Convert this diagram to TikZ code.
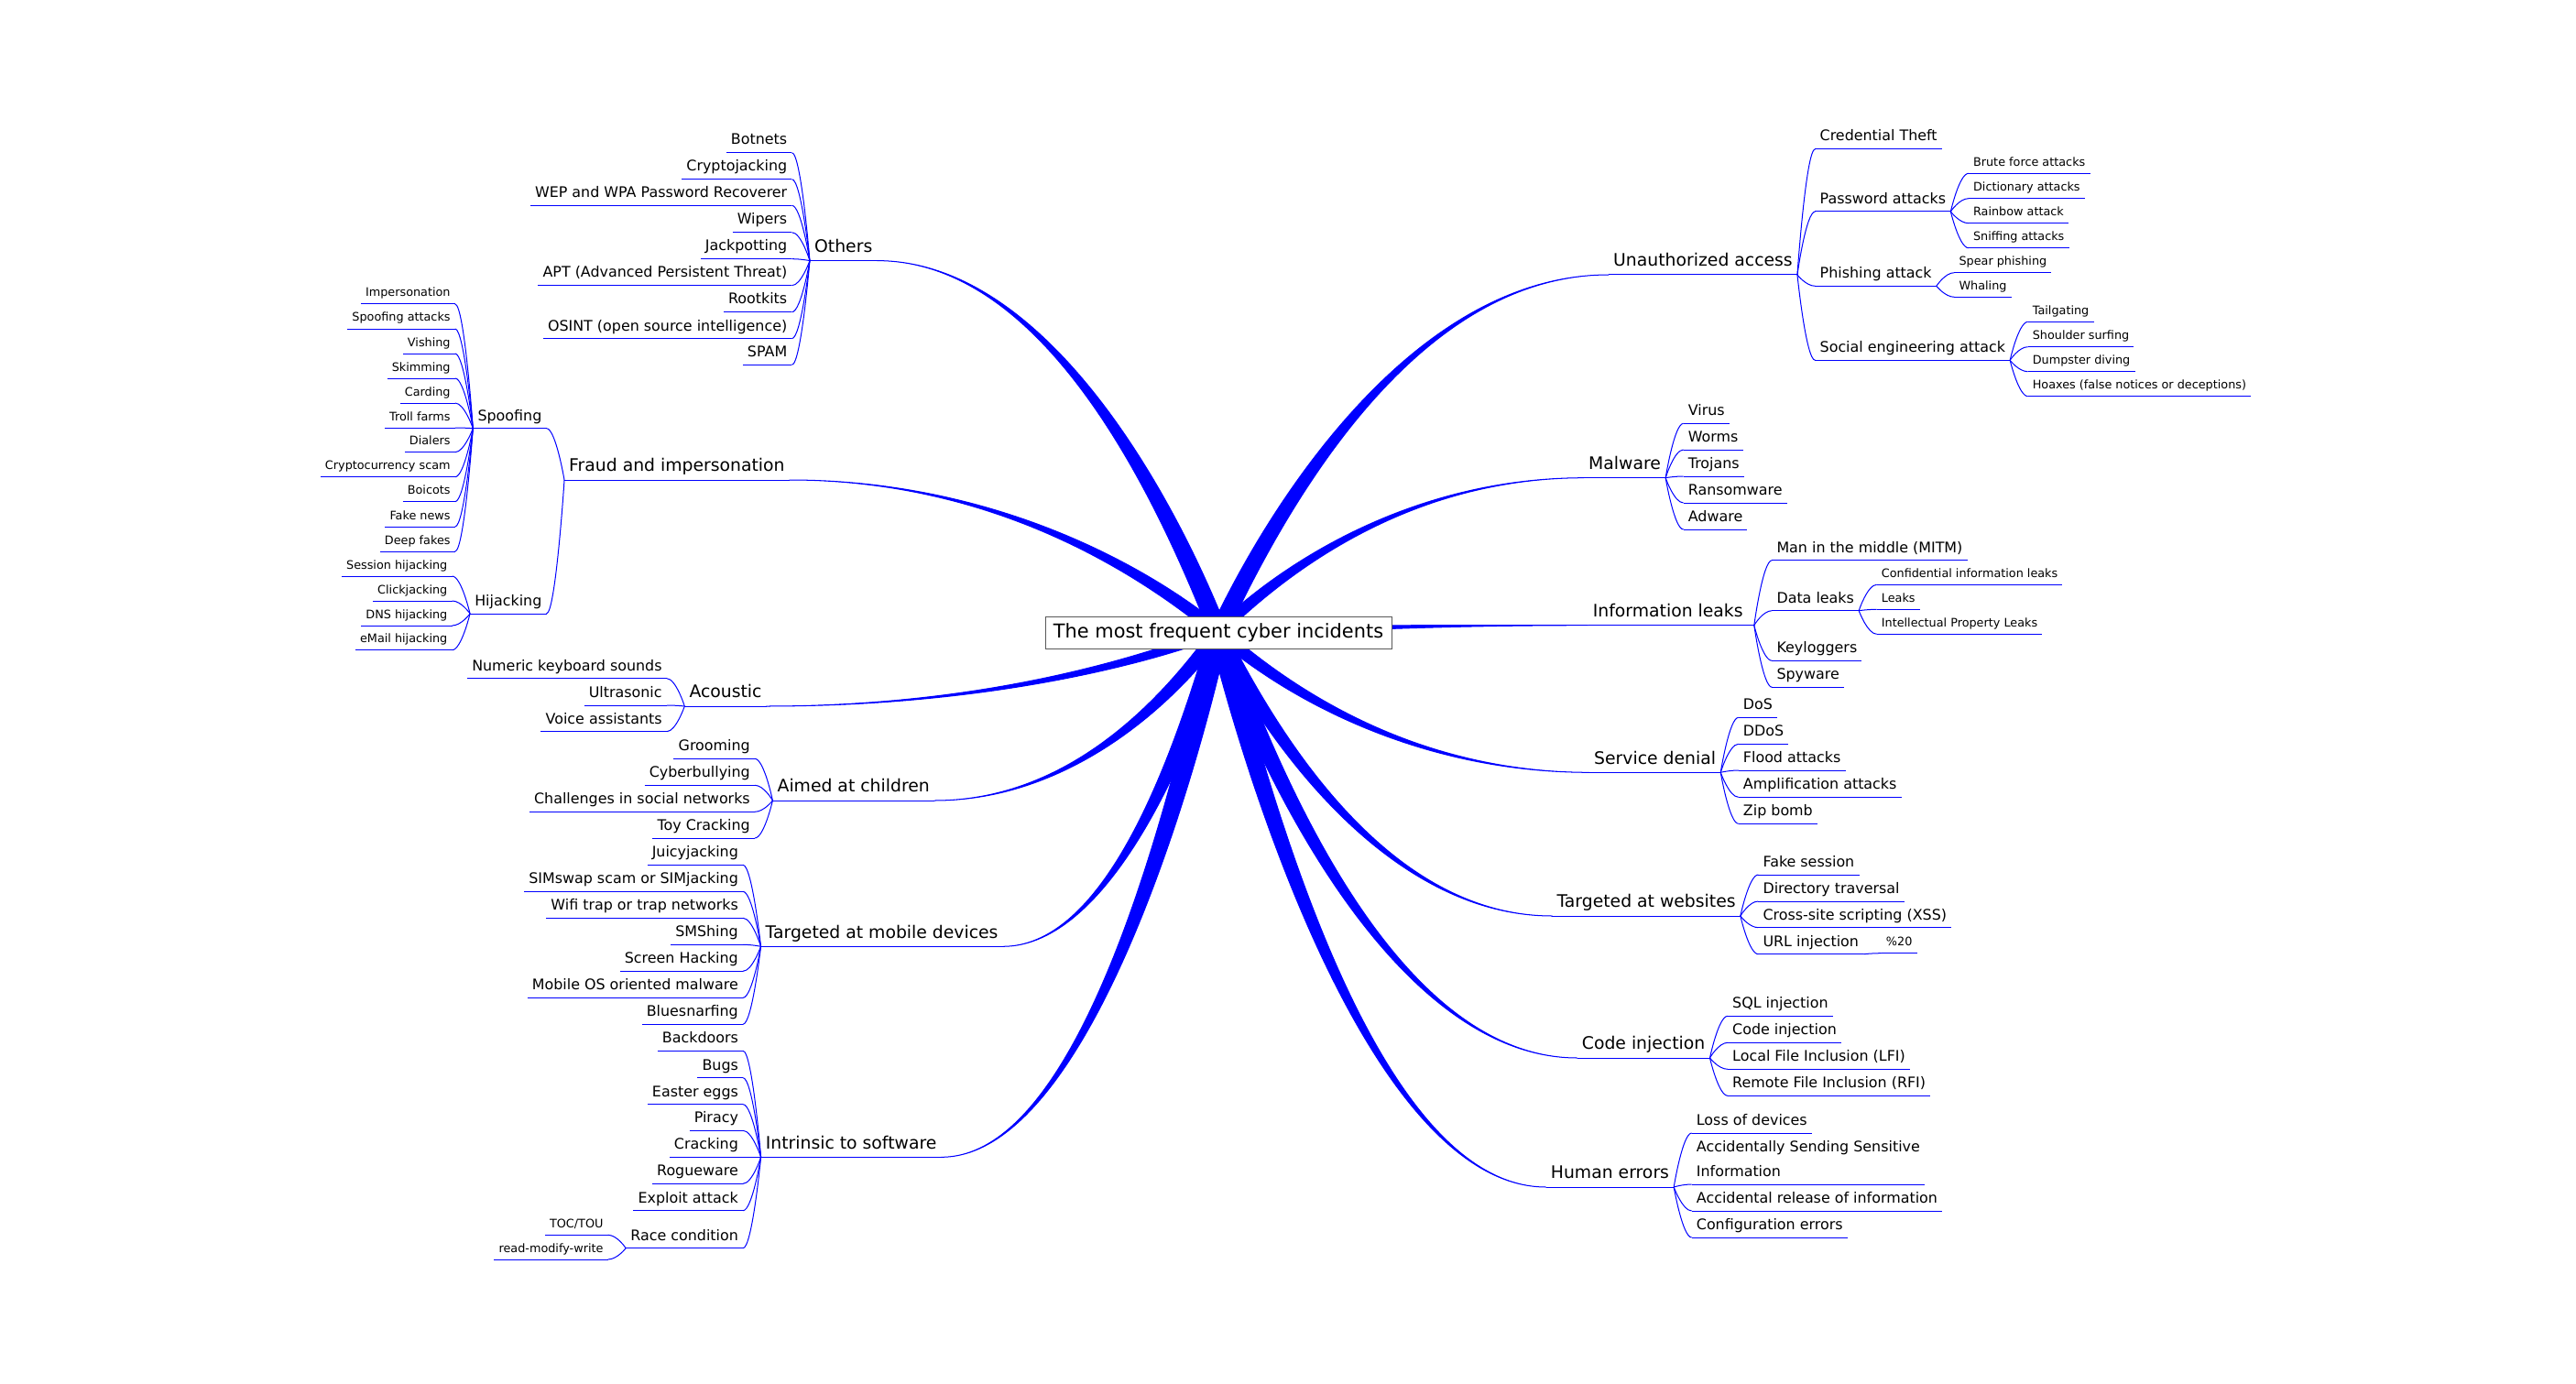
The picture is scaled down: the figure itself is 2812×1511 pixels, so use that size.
\documentclass[tikz,border=0pt]{standalone}
\usepackage{fontspec}
\setmainfont{DejaVu Sans}
\usetikzlibrary{calc}
\definecolor{eblue}{RGB}{0,0,255}
\tikzset{
  lvone/.style={inner xsep=5pt, inner ysep=0pt, text depth=9pt, font=\fontsize{18.8}{22}\selectfont},
  lvtwo/.style={inner xsep=5pt, inner ysep=0pt, text depth=8.5pt, font=\fontsize{15.9}{19}\selectfont},
  lvthree/.style={inner xsep=5pt, inner ysep=0pt, text depth=7.8pt, font=\fontsize{12.8}{15}\selectfont},
  uline/.style={draw=eblue, line width=1pt},
  thinedge/.style={draw=eblue, line width=1pt},
}
% right child: style, name, parent, y, text
\newcommand\rc[5]{%
  \path (#3.south east) ++(19.5,0) coordinate (t#2);
  \node[#1, anchor=south west] (#2) at (t#2 |- 0,#4) {#5};
  \draw[thinedge] (#3.south east) .. controls +(0,0) and +(-10,0) .. (#2.south west);
  \draw[uline] (#2.south west) -- (#2.south east);
}
% left child
\newcommand\lc[5]{%
  \path (#3.south west) ++(-19.5,0) coordinate (t#2);
  \node[#1, anchor=south east] (#2) at (t#2 |- 0,#4) {#5};
  \draw[thinedge] (#2.south east) .. controls +(10,0) and +(0,0) .. (#3.south west);
  \draw[uline] (#2.south west) -- (#2.south east);
}
% tapered main edge: attach point, half width at centre
\newcommand\thk[2]{%
  \filldraw[fill=eblue, draw=eblue, line width=1pt, line join=round]
    let \p1=(#1), \p2=(C),
        \p3=({0.5*\x1+0.5*\x2},\y1),
        \p4=({\x2+0.15*(\x1-\x2)},{\y2+0.35*(\y1-\y2)}),
        \n1={veclen(\x2-\x4,\y2-\y4)},
        \p5=({-#2*(\y2-\y4)/\n1},{#2*(\x2-\x4)/\n1})
    in (\p1) .. controls (\p3) and ({\x4+\x5},{\y4+\y5}) .. ({\x2+\x5},{\y2+\y5})
       -- ({\x2-\x5},{\y2-\y5}) .. controls ({\x4-\x5},{\y4-\y5}) and (\p3) .. (\p1) -- cycle;
}
\begin{document}
\begin{tikzpicture}[x=1pt,y=-1pt]
\fill[white] (0,0) rectangle (2812,1511);
\useasboundingbox (0,0) rectangle (2812,1511);
\coordinate (C) at (1330,690);

% ---------------- right side ----------------
\node[lvone, anchor=south west] (ua) at (1756,300) {Unauthorized access};
\draw[uline] (ua.south west) -- (ua.south east);
\rc{lvtwo}{uaa}{ua}{162.7}{Credential Theft}
\rc{lvtwo}{uab}{ua}{231}{Password attacks}
\rc{lvthree}{uaba}{uab}{189.3}{Brute force attacks}
\rc{lvthree}{uabb}{uab}{216.7}{Dictionary attacks}
\rc{lvthree}{uabc}{uab}{243.7}{Rainbow attack}
\rc{lvthree}{uabd}{uab}{270.7}{Sniffing attacks}
\rc{lvtwo}{uac}{ua}{312.3}{Phishing attack}
\rc{lvthree}{uaca}{uac}{297.7}{Spear phishing}
\rc{lvthree}{uacb}{uac}{324.3}{Whaling}
\rc{lvtwo}{uad}{ua}{393.3}{Social engineering attack}
\rc{lvthree}{uada}{uad}{351.3}{Tailgating}
\rc{lvthree}{uadb}{uad}{378.7}{Shoulder surfing}
\rc{lvthree}{uadc}{uad}{405.7}{Dumpster diving}
\rc{lvthree}{uadd}{uad}{432.7}{Hoaxes (false notices or deceptions)}

\node[lvone, anchor=south west] (mw) at (1729,521.7) {Malware};
\draw[uline] (mw.south west) -- (mw.south east);
\rc{lvtwo}{mwa}{mw}{462.3}{Virus}
\rc{lvtwo}{mwb}{mw}{491}{Worms}
\rc{lvtwo}{mwc}{mw}{520}{Trojans}
\rc{lvtwo}{mwd}{mw}{549}{Ransomware}
\rc{lvtwo}{mwe}{mw}{578}{Adware}

\node[lvone, anchor=south west] (il) at (1733.6,682.7) {Information leaks\kern7pt};
\draw[uline] (il.south west) -- (il.south east);
\rc{lvtwo}{ila}{il}{611.7}{Man in the middle (MITM)}
\rc{lvtwo}{ilb}{il}{666.7}{Data leaks}
\rc{lvthree}{ilba}{ilb}{638.3}{Confidential information leaks}
\rc{lvthree}{ilbb}{ilb}{665.3}{Leaks}
\rc{lvthree}{ilbc}{ilb}{692.3}{Intellectual Property Leaks}
\rc{lvtwo}{ilc}{il}{721.3}{Keyloggers}
\rc{lvtwo}{ild}{il}{750.3}{Spyware}

\node[lvone, anchor=south west] (sd) at (1735,843.3) {Service denial};
\draw[uline] (sd.south west) -- (sd.south east);
\rc{lvtwo}{sda}{sd}{783.3}{DoS}
\rc{lvtwo}{sdb}{sd}{812.3}{DDoS}
\rc{lvtwo}{sdc}{sd}{841}{Flood attacks}
\rc{lvtwo}{sdd}{sd}{870.3}{Amplification attacks}
\rc{lvtwo}{sde}{sd}{899.3}{Zip bomb}

\node[lvone, anchor=south west] (tw) at (1694.3,1000) {Targeted at websites};
\draw[uline] (tw.south west) -- (tw.south east);
\rc{lvtwo}{twa}{tw}{955}{Fake session}
\rc{lvtwo}{twb}{tw}{984}{Directory traversal}
\rc{lvtwo}{twc}{tw}{1012.7}{Cross-site scripting (XSS)}
\rc{lvtwo}{twd}{tw}{1041.7}{URL injection}
\rc{lvthree}{twda}{twd}{1040.7}{\%20}

\node[lvone, anchor=south west] (ci) at (1721.7,1155) {Code injection};
\draw[uline] (ci.south west) -- (ci.south east);
\rc{lvtwo}{cia}{ci}{1109.3}{SQL injection}
\rc{lvtwo}{cib}{ci}{1138.3}{Code injection}
\rc{lvtwo}{cic}{ci}{1167.3}{Local File Inclusion (LFI)}
\rc{lvtwo}{cid}{ci}{1196.3}{Remote File Inclusion (RFI)}

\node[lvone, anchor=south west] (he) at (1687.7,1296) {Human errors};
\draw[uline] (he.south west) -- (he.south east);
\rc{lvtwo}{hea}{he}{1237}{Loss of devices}
\rc{lvtwo,align=left,font=\fontsize{15.9}{26.7}\selectfont}{heb}{he}{1293}{Accidentally Sending Sensitive\\Information}
\rc{lvtwo}{hec}{he}{1322}{Accidental release of information}
\rc{lvtwo}{hed}{he}{1351}{Configuration errors}

% ---------------- left side ----------------
\node[lvone, anchor=south east] (ot) at (957.5,284.6) {Others};
\draw[uline] (ot.south west) -- (ot.south east);
\lc{lvtwo}{ota}{ot}{166.7}{Botnets}
\lc{lvtwo}{otb}{ot}{195.7}{Cryptojacking}
\lc{lvtwo}{otc}{ot}{224.3}{WEP and WPA Password Recoverer}
\lc{lvtwo}{otd}{ot}{253.7}{Wipers}
\lc{lvtwo}{ote}{ot}{282.7}{Jackpotting}
\lc{lvtwo}{otf}{ot}{311.7}{APT (Advanced Persistent Threat)}
\lc{lvtwo}{otg}{ot}{340.7}{Rootkits}
\lc{lvtwo}{oth}{ot}{369.7}{OSINT (open source intelligence)}
\lc{lvtwo}{oti}{ot}{398.3}{SPAM}

\node[lvone, anchor=south east] (fr) at (861.8,524) {Fraud and impersonation};
\draw[uline] (fr.south west) -- (fr.south east);
\lc{lvtwo}{fra}{fr}{467.7}{Spoofing}
\lc{lvthree}{fraa}{fra}{332}{Impersonation}
\lc{lvthree}{frab}{fra}{359}{Spoofing attacks}
\lc{lvthree}{frac}{fra}{386}{Vishing}
\lc{lvthree}{frad}{fra}{413}{Skimming}
\lc{lvthree}{frae}{fra}{440}{Carding}
\lc{lvthree}{fraf}{fra}{467}{Troll farms}
\lc{lvthree}{frag}{fra}{493.7}{Dialers}
\lc{lvthree}{frah}{fra}{520.7}{Cryptocurrency scam}
\lc{lvthree}{frai}{fra}{547.7}{Boicots}
\lc{lvthree}{fraj}{fra}{575}{Fake news}
\lc{lvthree}{frak}{fra}{602}{Deep fakes}
\lc{lvtwo}{frb}{fr}{670}{Hijacking}
\lc{lvthree}{frba}{frb}{629}{Session hijacking}
\lc{lvthree}{frbb}{frb}{656}{Clickjacking}
\lc{lvthree}{frbc}{frb}{683}{DNS hijacking}
\lc{lvthree}{frbd}{frb}{709.7}{eMail hijacking}

\node[lvone, anchor=south east] (ac) at (836.7,771) {Acoustic};
\draw[uline] (ac.south west) -- (ac.south east);
\lc{lvtwo}{aca}{ac}{740.7}{Numeric keyboard sounds}
\lc{lvtwo}{acb}{ac}{770}{Ultrasonic}
\lc{lvtwo}{acc}{ac}{798.7}{Voice assistants}

\node[lvone, anchor=south east] (ch) at (1020,874) {Aimed at children};
\draw[uline] (ch.south west) -- (ch.south east);
\lc{lvtwo}{cha}{ch}{828.3}{Grooming}
\lc{lvtwo}{chb}{ch}{857.3}{Cyberbullying}
\lc{lvtwo}{chc}{ch}{886.3}{Challenges in social networks}
\lc{lvtwo}{chd}{ch}{915}{Toy Cracking}

\node[lvone, anchor=south east] (tm) at (1094.7,1033.3) {Targeted at mobile devices};
\draw[uline] (tm.south west) -- (tm.south east);
\lc{lvtwo}{tma}{tm}{944.3}{Juicyjacking}
\lc{lvtwo}{tmb}{tm}{973.3}{SIMswap scam or SIMjacking}
\lc{lvtwo}{tmc}{tm}{1002.3}{Wifi trap or trap networks}
\lc{lvtwo}{tmd}{tm}{1031.3}{SMShing}
\lc{lvtwo}{tme}{tm}{1060.3}{Screen Hacking}
\lc{lvtwo}{tmf}{tm}{1089.3}{Mobile OS oriented malware}
\lc{lvtwo}{tmg}{tm}{1118.3}{Bluesnarfing}

\node[lvone, anchor=south east] (is) at (1027.6,1263.3) {Intrinsic to software};
\draw[uline] (is.south west) -- (is.south east);
\lc{lvtwo}{isa}{is}{1147.3}{Backdoors}
\lc{lvtwo}{isb}{is}{1176.7}{Bugs}
\lc{lvtwo}{isc}{is}{1205.7}{Easter eggs}
\lc{lvtwo}{isd}{is}{1234.3}{Piracy}
\lc{lvtwo}{ise}{is}{1263.3}{Cracking}
\lc{lvtwo}{isf}{is}{1292.3}{Rogueware}
\lc{lvtwo}{isg}{is}{1321.7}{Exploit attack}
\lc{lvtwo}{ish}{is}{1362.7}{Race condition}
\lc{lvthree}{isha}{ish}{1348.3}{TOC/TOU}
\lc{lvthree}{ishb}{ish}{1375}{read-modify-write}

% ---------------- main tapered edges ----------------
\thk{ua.south west}{9}
\thk{mw.south west}{6}
\thk{il.south west}{5}
\thk{sd.south west}{6.5}
\thk{tw.south west}{8}
\thk{ci.south west}{9.5}
\thk{he.south west}{10}
\thk{ot.south east}{9.5}
\thk{fr.south east}{6.5}
\thk{ac.south east}{5}
\thk{ch.south east}{7.5}
\thk{tm.south east}{9.5}
\thk{is.south east}{11}

% ---------------- root ----------------
\node[draw=black!65, fill=white, line width=1pt, inner sep=0pt, minimum width=378pt, minimum height=35pt,
      text height=15.5pt, text depth=3pt, font=\fontsize{20.9}{24}\selectfont] (root) at (1330,690.5)
      {The most frequent cyber incidents};
\end{tikzpicture}
\end{document}
